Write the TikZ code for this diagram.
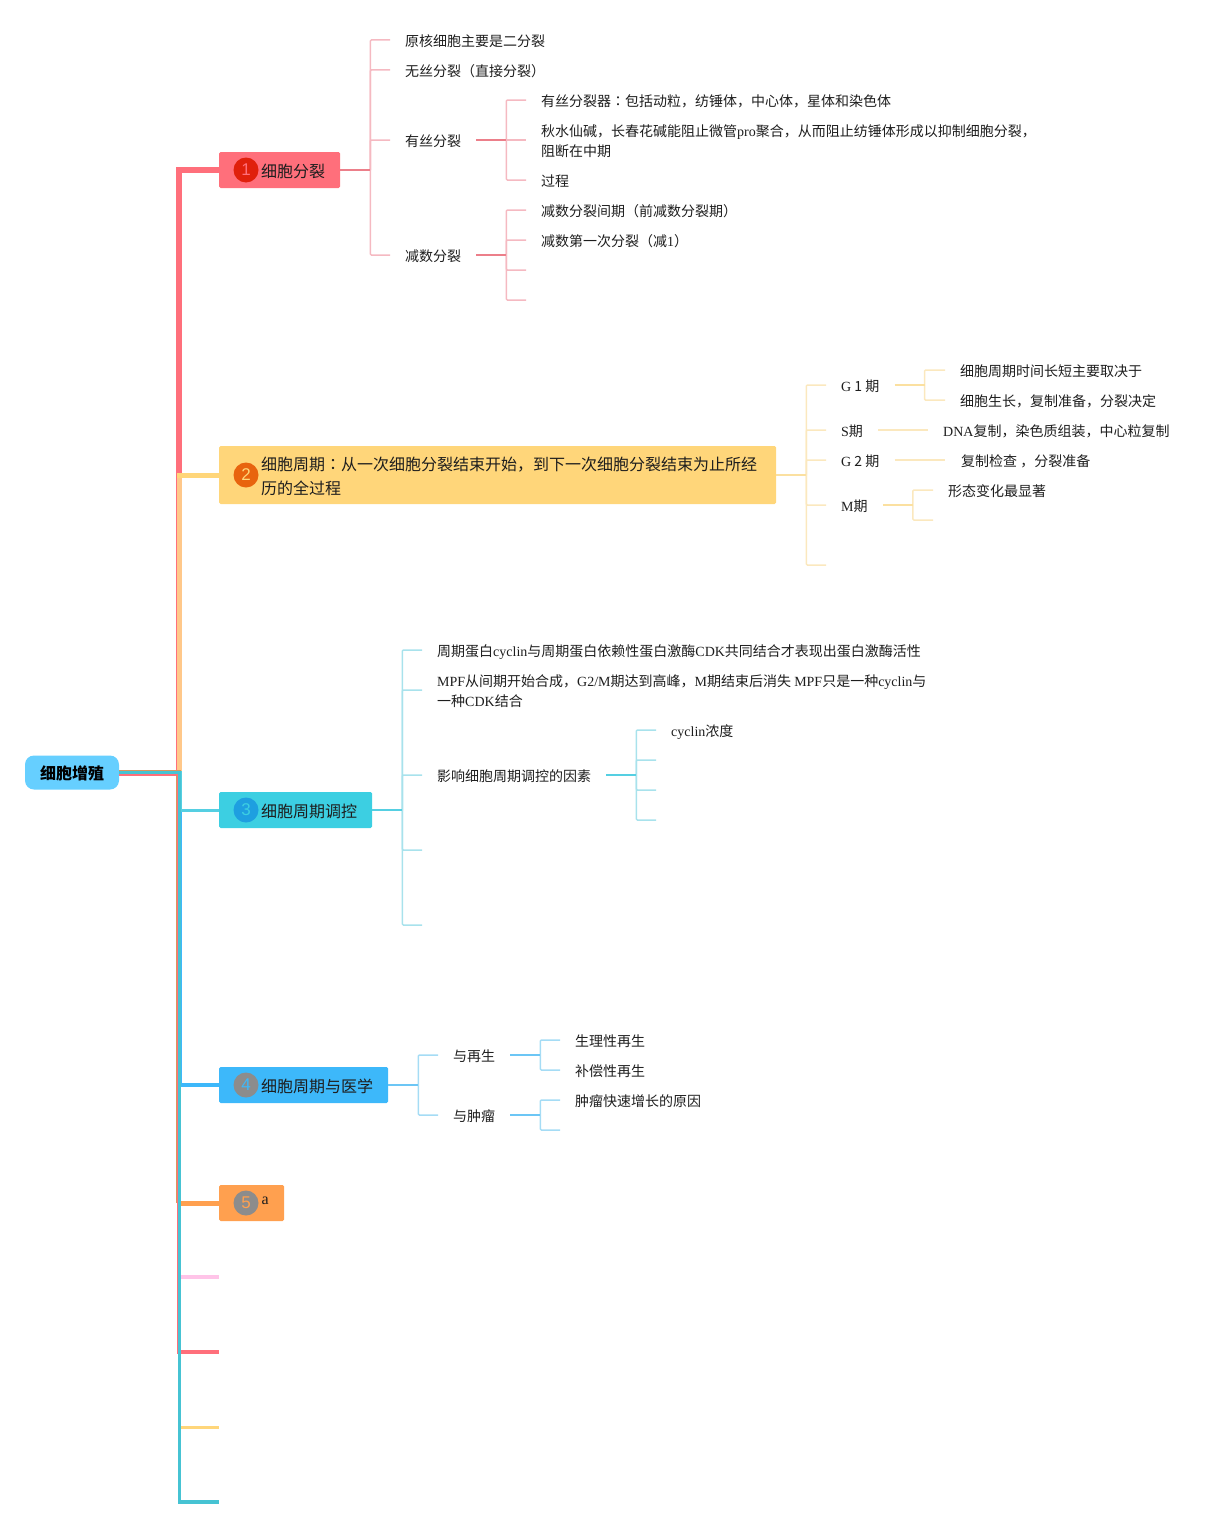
\documentclass[tikz,border=0pt]{standalone}
\usepackage{fontspec}
\setmainfont{Noto Sans CJK SC}
\newfontfamily\latfont{Liberation Serif}
\newfontfamily\numfont{Liberation Sans}
\newfontfamily\colfont{Noto Sans CJK TC}
\newcommand{\lat}[1]{{\latfont #1}}
\newcommand{\col}{{\colfont ：}}
\definecolor{rootc}{HTML}{66CFFF}
\definecolor{redc}{HTML}{FF6F7B}
\definecolor{yelc}{HTML}{FFD67A}
\definecolor{peac}{HTML}{FFC88A}
\definecolor{teac}{HTML}{3CCFE2}
\definecolor{bluc}{HTML}{3DB8FA}
\definecolor{orac}{HTML}{FFA04F}
\definecolor{pinc}{HTML}{FFC4E8}
\definecolor{gryc}{HTML}{8C8C8C}
\definecolor{nred}{HTML}{E0200C}
\definecolor{nora}{HTML}{E8640E}
\definecolor{nblu}{HTML}{1E9FE0}
\definecolor{redt}{HTML}{F5B9C1}
\definecolor{redd}{HTML}{EC7F8A}
\definecolor{yelt}{HTML}{FBE8BE}
\definecolor{yeld}{HTML}{FBE0A0}
\definecolor{teat}{HTML}{A8E2EC}
\definecolor{tead}{HTML}{55CFE2}
\definecolor{blut}{HTML}{A5DCF5}
\definecolor{blud}{HTML}{6CC6F5}
\definecolor{inkc}{HTML}{1E1E1E}
\tikzset{
	topic/.style={rectangle,rounded corners=1.5pt,inner xsep=15pt,inner ysep=0pt,anchor=west,minimum height=36pt,text=inkc,font=\fontsize{16}{24}\selectfont,execute at begin node={\rule{0pt}{16pt}}},
	num/.style={circle,inner sep=0pt,minimum size=25pt,font=\numfont\fontsize{17}{17}\selectfont},
	leaf/.style={inner xsep=15pt,inner ysep=0pt,anchor=west,align=left,text=inkc,font=\fontsize{14}{20}\selectfont,execute at begin node={\rule{0pt}{17pt}},execute at end node={\rule[-4pt]{0pt}{4pt}}},
	main/.style={line width=#1,line cap=butt,line join=miter},
	twig/.style={line width=1.5pt,rounded corners=1pt},
	stem/.style={line width=2pt},
}
\begin{document}
\begin{tikzpicture}[x=1pt,y=-1pt]
	\useasboundingbox (0,0) rectangle (1230,1528);
	% topics
	\node[rectangle,rounded corners=9pt,fill=rootc,minimum width=94pt,minimum height=34pt,inner sep=0pt,font=\bfseries\fontsize{16}{20}\selectfont,execute at begin node={\rule{0pt}{16pt}}] (root) at (72,772.5) {细胞增殖};
	\node[topic,fill=redc] (t1) at (219,170) {\hspace*{27pt}细胞分裂};
	\node[topic,fill=yelc,text width=527pt,align=left,minimum height=58pt] (t2) at (219,475) {\hspace*{27pt}细胞周期\col 从一次细胞分裂结束开始，到下一次细胞分裂结束为止所经\\\hspace*{27pt}历的全过程};
	\node[topic,fill=teac] (t3) at (219,810) {\hspace*{27pt}细胞周期调控};
	\node[topic,fill=bluc] (t4) at (219,1085) {\hspace*{27pt}细胞周期与医学};
	\node[topic,fill=orac,minimum width=65pt,align=left] (t5) at (219,1203) {\hspace*{27pt}\raisebox{7pt}[0pt][0pt]{\lat{\fontsize{16}{16}\selectfont a}}};
	\node[num,fill=nred,text=redc] (n1) at (246,170) {1};
	\node[num,fill=nora,text=yelc] (n2) at (246,475) {2};
	\node[num,fill=nblu,text=teac] (n3) at (246,810) {3};
	\node[num,fill=gryc,text=bluc] (n4) at (246,1085) {4};
	\node[num,fill=gryc,text=orac] (n5) at (246,1203) {5};
	% free ends
	\coordinate (t6) at (219,1277);
	\coordinate (t7) at (219,1352);
	\coordinate (t8) at (219,1427);
	\coordinate (t9) at (219,1502);
	% trunk
	\draw[main=6pt,redc] (root.east) -- (179,772.5) |- (t1.west);
	\draw[main=5pt,yelc] (root.east) -- (179.5,772.5) |- (t2.west);
	\draw[main=5pt,peac] (root.east) -- (179.5,772.5) -- (179.5,478);
	\draw[main=5pt,orac!70!gray] (root.east) -- (178.5,772.5) -- (178.5,1203);
	\draw[main=5pt,orac] (178.5,1203) -- (t5.west);
	\draw[main=4pt,bluc] (root.east) -- (180,772.5) |- (t4.west);
	\draw[main=4pt,pinc] (root.east) -- (179,772.5) |- (t6);
	\draw[main=4pt,redc] (root.east) -- (179,772.5) |- (t7);
	\draw[main=3pt,yelc] (root.east) -- (179,772.5) |- (t8);
	\draw[main=3pt,tead] (root.east) -- (180,772.5) |- (t3.west);
	\draw[main=3.5pt,teac!85!gray] (root.east) -- (179.3,772.5) |- (t9);
	% first topic
	\node[leaf] (a1) at (390,40) {原核细胞主要是二分裂};
	\node[leaf] (a2) at (390,70) {无丝分裂（直接分裂）};
	\node[leaf] (a3) at (390,140) {有丝分裂};
	\node[leaf] (a4) at (390,255) {减数分裂};
	\node[leaf] (a31) at (526,100) {有丝分裂器\col 包括动粒，纺锤体，中心体，星体和染色体};
	\node[leaf,yshift=-3pt] (a32) at (526,140) {秋水仙碱，长春花碱能阻止微管\lat{pro}聚合，从而阻止纺锤体形成以抑制细胞分裂，\\阻断在中期};
	\coordinate (a32end) at (526,140);
	\node[leaf] (a33) at (526,180) {过程};
	\node[leaf] (a41) at (526,210) {减数分裂间期（前减数分裂期）};
	\node[leaf] (a42) at (526,240) {减数第一次分裂（减\lat{1}）};
	\coordinate (a43) at (526,270);
	\coordinate (a44) at (526,300);
	\foreach \n in {a1,a2,a3,a4} \draw[twig,redt] (t1.east) ++(30,0) |- (\n.west);
	\foreach \n in {a31,a33} \draw[twig,redt] (a3.east) ++(30,0) |- (\n.west);
	\draw[twig,redt] (a3.east) ++(30,0) -- (a32end);
	\foreach \n in {a41,a42,a43,a44} \draw[twig,redt] (a4.east) ++(30,0) |- (\n);
	\draw[stem,redd] (t1.east) -- ++(30,0);
	\draw[stem,redd] (a3.east) -- ++(30,0);
	\draw[stem,redd] (a4.east) -- ++(30,0);
	% second topic
	\node[leaf] (b1) at (826,385) {\lat{G} 1 期};
	\node[leaf] (b2) at (826,430) {\lat{S}期};
	\node[leaf] (b3) at (826,460) {\lat{G} 2 期};
	\node[leaf] (b4) at (826,505) {\lat{M}期};
	\coordinate (b5) at (826,565);
	\node[leaf] (b11) at (945,370) {细胞周期时间长短主要取决于};
	\node[leaf] (b12) at (945,400) {细胞生长，复制准备，分裂决定};
	\node[leaf] (b21) at (928,430) {\lat{DNA}复制，染色质组装，中心粒复制};
	\node[leaf] (b31) at (945,460) {\hspace*{1pt}复制检查 ，分裂准备};
	\node[leaf] (b41) at (933,490) {形态变化最显著};
	\coordinate (b42) at (933,520);
	\foreach \n in {b1,b2,b3,b4,b5} \draw[twig,yelt] (t2.east) ++(30,0) |- (\n);
	\foreach \n in {b11,b12} \draw[twig,yelt] (b1.east) ++(30,0) |- (\n.west);
	\foreach \n in {b41,b42} \draw[twig,yelt] (b4.east) ++(30,0) |- (\n);
	\draw[twig,yelt] (b2.east) -- (b21.west);
	\draw[twig,yelt] (b3.east) -- (b31.west);
	\draw[stem,yeld] (t2.east) -- ++(30,0);
	\draw[stem,yeld] (b1.east) -- ++(30,0);
	\draw[stem,yeld] (b4.east) -- ++(30,0);
	% third topic
	\node[leaf] (c1) at (422,650) {周期蛋白\lat{cyclin}与周期蛋白依赖性蛋白激酶\lat{CDK}共同结合才表现出蛋白激酶活性};
	\node[leaf,yshift=-3pt] (c2) at (422,690) {\lat{MPF}从间期开始合成，\lat{G2/M}期达到高峰，\lat{M}期结束后消失 \lat{MPF}只是一种\lat{cyclin}与\\一种\lat{CDK}结合};
	\coordinate (c2end) at (422,690);
	\node[leaf] (c3) at (422,775) {影响细胞周期调控的因素};
	\coordinate (c4) at (422,850);
	\coordinate (c5) at (422,925);
	\node[leaf] (c31) at (656,730) {\lat{cyclin}浓度};
	\coordinate (c32) at (656,760);
	\coordinate (c33) at (656,790);
	\coordinate (c34) at (656,820);
	\foreach \n in {c1,c2end,c3,c4,c5} \draw[twig,teat] (t3.east) ++(30,0) |- (\n);
	\foreach \n in {c31,c32,c33,c34} \draw[twig,teat] (c3.east) ++(30,0) |- (\n);
	\draw[stem,tead] (t3.east) -- ++(30,0);
	\draw[stem,tead] (c3.east) -- ++(30,0);
	% fourth topic
	\node[leaf] (d1) at (438,1055) {与再生};
	\node[leaf] (d2) at (438,1115) {与肿瘤};
	\node[leaf] (d11) at (560,1040) {生理性再生};
	\node[leaf] (d12) at (560,1070) {补偿性再生};
	\node[leaf] (d21) at (560,1100) {肿瘤快速增长的原因};
	\coordinate (d22) at (560,1130);
	\foreach \n in {d1,d2} \draw[twig,blut] (t4.east) ++(30,0) |- (\n.west);
	\foreach \n in {d11,d12} \draw[twig,blut] (d1.east) ++(30,0) |- (\n.west);
	\foreach \n in {d21,d22} \draw[twig,blut] (d2.east) ++(30,0) |- (\n);
	\draw[stem,blud] (t4.east) -- ++(30,0);
	\draw[stem,blud] (d1.east) -- ++(30,0);
	\draw[stem,blud] (d2.east) -- ++(30,0);
\end{tikzpicture}
\end{document}
